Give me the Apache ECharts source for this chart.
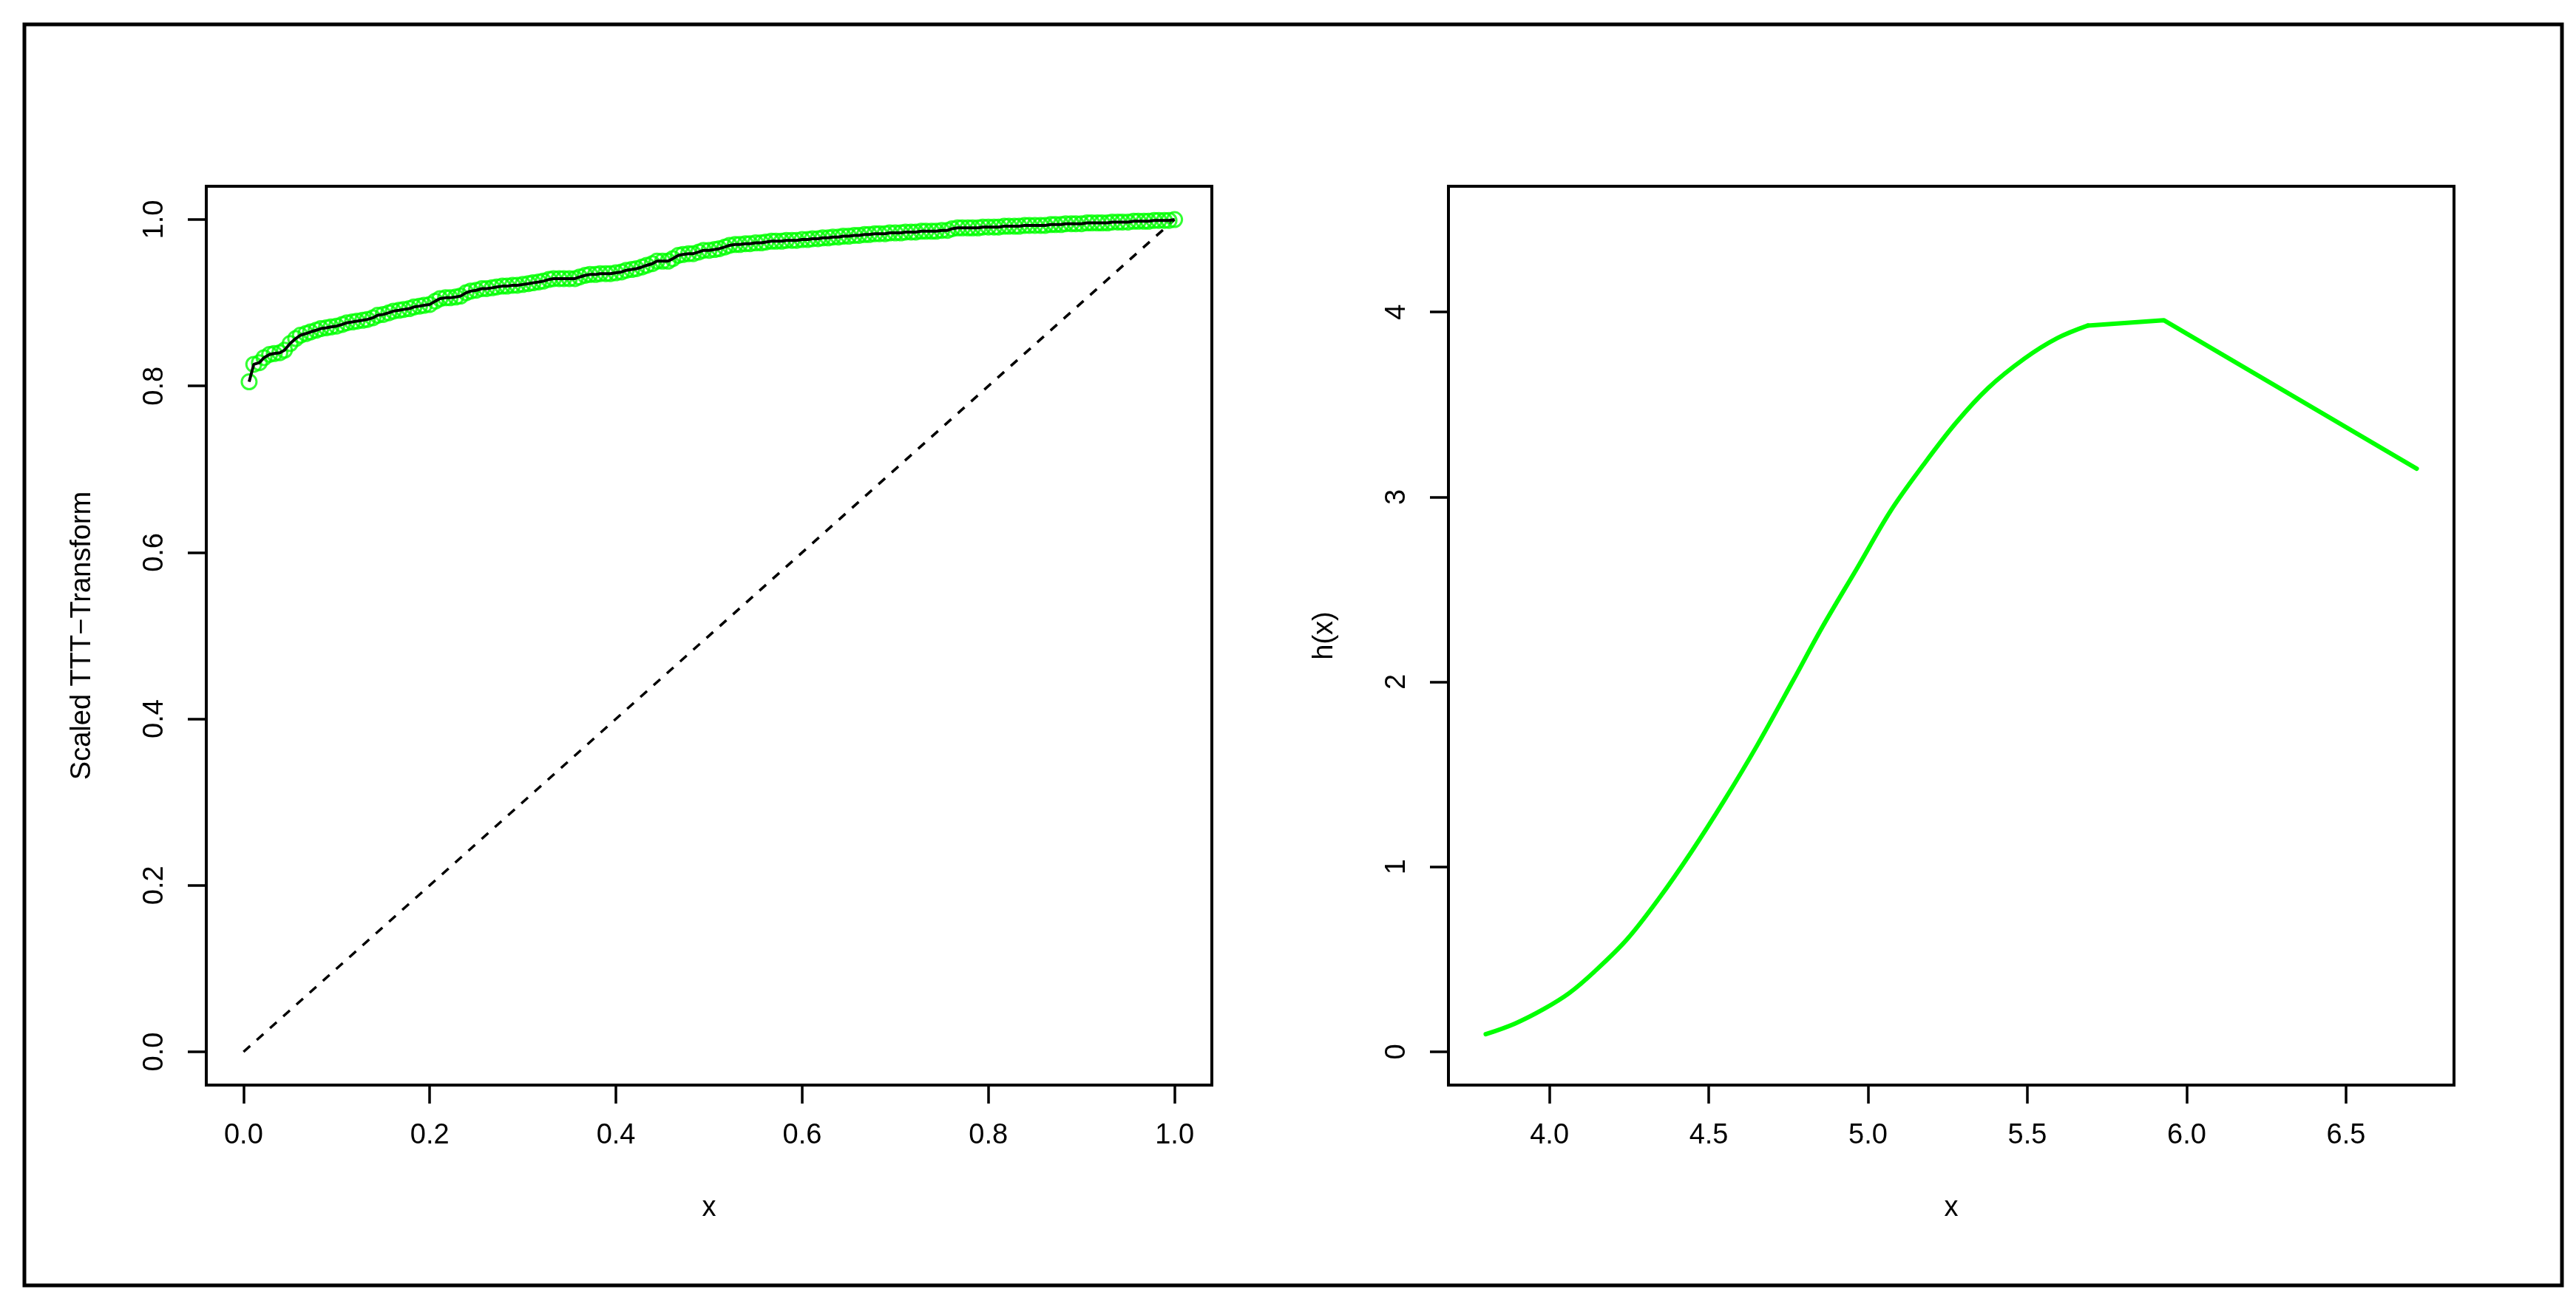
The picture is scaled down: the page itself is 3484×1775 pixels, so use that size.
<!DOCTYPE html>
<html><head><meta charset="utf-8">
<script src="https://cdn.jsdelivr.net/npm/echarts@6/dist/echarts.min.js"></script>
<style>html,body{margin:0;padding:0;background:#fff}#c{width:3484px;height:1775px}</style>
</head><body><div id="c"></div>
<script>
// Left panel: scaled TTT transform (x = i/n, y = phi_i)
const tttX = [
0.006,0.011,0.017,0.022,0.028,0.033,0.039,0.044,0.050,0.056,
0.061,0.067,0.072,0.078,0.083,0.089,0.094,0.100,0.106,0.111,
0.117,0.122,0.128,0.133,0.139,0.144,0.150,0.156,0.161,0.167,
0.172,0.178,0.183,0.189,0.194,0.200,0.206,0.211,0.217,0.222,
0.228,0.233,0.239,0.244,0.250,0.256,0.261,0.267,0.272,0.278,
0.283,0.289,0.294,0.300,0.306,0.311,0.317,0.322,0.328,0.333,
0.339,0.344,0.350,0.356,0.361,0.367,0.372,0.378,0.383,0.389,
0.394,0.400,0.406,0.411,0.417,0.422,0.428,0.433,0.439,0.444,
0.450,0.456,0.461,0.467,0.472,0.478,0.483,0.489,0.494,0.500,
0.506,0.511,0.517,0.522,0.528,0.533,0.539,0.544,0.550,0.556,
0.561,0.567,0.572,0.578,0.583,0.589,0.594,0.600,0.606,0.611,
0.617,0.622,0.628,0.633,0.639,0.644,0.650,0.656,0.661,0.667,
0.672,0.678,0.683,0.689,0.694,0.700,0.706,0.711,0.717,0.722,
0.728,0.733,0.739,0.744,0.750,0.756,0.761,0.767,0.772,0.778,
0.783,0.789,0.794,0.800,0.806,0.811,0.817,0.822,0.828,0.833,
0.839,0.844,0.850,0.856,0.861,0.867,0.872,0.878,0.883,0.889,
0.894,0.900,0.906,0.911,0.917,0.922,0.928,0.933,0.939,0.944,
0.950,0.956,0.961,0.967,0.972,0.978,0.983,0.989,0.994,1.000];
const tttY = [
0.805,0.826,0.828,0.834,0.838,0.839,0.840,0.843,0.851,0.857,
0.861,0.863,0.865,0.867,0.869,0.870,0.871,0.872,0.874,0.876,
0.877,0.878,0.879,0.880,0.882,0.885,0.886,0.888,0.890,0.891,
0.892,0.893,0.895,0.896,0.897,0.898,0.902,0.905,0.906,0.906,
0.907,0.908,0.912,0.914,0.915,0.917,0.917,0.918,0.919,0.920,
0.920,0.921,0.921,0.922,0.923,0.924,0.925,0.926,0.928,0.929,
0.929,0.929,0.929,0.929,0.931,0.933,0.934,0.934,0.935,0.935,
0.935,0.936,0.937,0.939,0.940,0.941,0.943,0.945,0.947,0.950,
0.950,0.950,0.953,0.957,0.958,0.959,0.959,0.961,0.963,0.963,
0.964,0.965,0.967,0.969,0.970,0.970,0.971,0.971,0.972,0.972,
0.973,0.974,0.974,0.974,0.975,0.975,0.975,0.976,0.976,0.977,
0.977,0.978,0.978,0.979,0.979,0.980,0.980,0.981,0.981,0.982,
0.982,0.983,0.983,0.983,0.984,0.984,0.984,0.985,0.985,0.985,
0.986,0.986,0.986,0.986,0.987,0.987,0.989,0.990,0.990,0.990,
0.990,0.990,0.991,0.991,0.991,0.991,0.992,0.992,0.992,0.992,
0.993,0.993,0.993,0.993,0.993,0.994,0.994,0.994,0.995,0.995,
0.995,0.995,0.996,0.996,0.996,0.996,0.996,0.997,0.997,0.997,
0.997,0.998,0.998,0.998,0.998,0.999,0.999,0.999,0.999,1.000];
const diagX = [0, 1];
const diagY = [0, 1];

// Right panel: h(x)
const hX = [3.800,3.891,3.982,4.061,4.141,4.243,4.345,4.447,4.549,4.651,4.765,4.855,4.969,5.071,5.173,5.275,5.377,5.490,5.593,5.690,5.928,6.722];
const hY = [0.095,0.152,0.231,0.316,0.433,0.607,0.832,1.085,1.360,1.654,2.008,2.292,2.625,2.925,3.172,3.399,3.589,3.747,3.858,3.927,3.956,3.153];
const hSmoothEnd = 20; // points up to x=5.690 form the dense, smooth-looking part

const leftXTicks = [0, 0.2, 0.4, 0.6, 0.8, 1.0];
const leftYTicks = [0, 0.2, 0.4, 0.6, 0.8, 1.0];
const rightXTicks = [4.0, 4.5, 5.0, 5.5, 6.0, 6.5];
const rightYTicks = [0, 1, 2, 3, 4];

const FF = '"Liberation Sans", Arial, Helvetica, sans-serif';
const FS = 38;

function zip(a, b) { return a.map((v, i) => [v, b[i]]); }

function xAx(gi, min, max, ticks, fmt, name) {
  return {
    type: 'value', gridIndex: gi, min: min, max: max,
    name: name, nameLocation: 'middle', nameGap: 148,
    nameTextStyle: { fontFamily: FF, fontSize: FS, color: '#000' },
    axisLine: { show: false, onZero: false },
    splitLine: { show: false },
    axisTick: { show: true, customValues: ticks, length: 25, lineStyle: { color: '#000', width: 3.5 } },
    axisLabel: { show: true, customValues: ticks, margin: 50, formatter: fmt, fontFamily: FF, fontSize: FS, color: '#000' }
  };
}
function yAx(gi, min, max, ticks, fmt, name) {
  return {
    type: 'value', gridIndex: gi, min: min, max: max,
    name: name, nameLocation: 'middle', nameGap: 148,
    nameTextStyle: { fontFamily: FF, fontSize: FS, color: '#000' },
    axisLine: { show: false, onZero: false },
    splitLine: { show: false },
    axisTick: { show: true, customValues: ticks, length: 25, lineStyle: { color: '#000', width: 3.5 } },
    axisLabel: { show: true, customValues: ticks, rotate: 90, margin: 50, formatter: fmt, fontFamily: FF, fontSize: FS, color: '#000' }
  };
}

const hData = zip(hX, hY);

const chart = echarts.init(document.getElementById('c'), null, { renderer: 'canvas' });
chart.setOption({
  animation: false,
  backgroundColor: '#fff',
  grid: [
    { left: 279, top: 252, width: 1360, height: 1216, show: true, borderColor: '#000', borderWidth: 4, backgroundColor: 'transparent' },
    { left: 1959, top: 252, width: 1360, height: 1216, show: true, borderColor: '#000', borderWidth: 4, backgroundColor: 'transparent' }
  ],
  xAxis: [
    xAx(0, -0.04, 1.04, leftXTicks, v => v.toFixed(1), 'x'),
    xAx(1, 3.683, 6.839, rightXTicks, v => v.toFixed(1), 'x')
  ],
  yAxis: [
    yAx(0, -0.04, 1.04, leftYTicks, v => v.toFixed(1), 'Scaled TTT\u2212Transform'),
    yAx(1, -0.18, 4.68, rightYTicks, v => String(Math.round(v)), 'h(x)')
  ],
  graphic: [
    { type: 'rect', shape: { x: 33, y: 33, width: 3432, height: 1706 }, style: { fill: 'none', stroke: '#000', lineWidth: 5 }, z: 100 }
  ],
  series: [
    { type: 'line', xAxisIndex: 0, yAxisIndex: 0, data: zip(diagX, diagY), showSymbol: false, symbol: 'none',
      lineStyle: { color: '#000', width: 3.5, type: [12, 12] }, z: 2 },
    { type: 'scatter', xAxisIndex: 0, yAxisIndex: 0, data: zip(tttX, tttY), symbol: 'circle', symbolSize: 20,
      itemStyle: { color: 'rgba(0,0,0,0)', borderColor: '#00ff00', borderWidth: 3 }, z: 3 },
    { type: 'line', xAxisIndex: 0, yAxisIndex: 0, data: zip(tttX, tttY), showSymbol: false, symbol: 'none',
      lineStyle: { color: '#000', width: 4 }, z: 4 },
    { type: 'line', xAxisIndex: 1, yAxisIndex: 1, data: hData.slice(0, hSmoothEnd), showSymbol: false, symbol: 'none',
      smooth: 0.35, lineStyle: { color: '#00ff00', width: 6, cap: 'round', join: 'round' }, z: 3 },
    { type: 'line', xAxisIndex: 1, yAxisIndex: 1, data: hData.slice(hSmoothEnd - 1), showSymbol: false, symbol: 'none',
      lineStyle: { color: '#00ff00', width: 6, cap: 'round', join: 'round' }, z: 3 }
  ]
});
</script>
</body></html>
